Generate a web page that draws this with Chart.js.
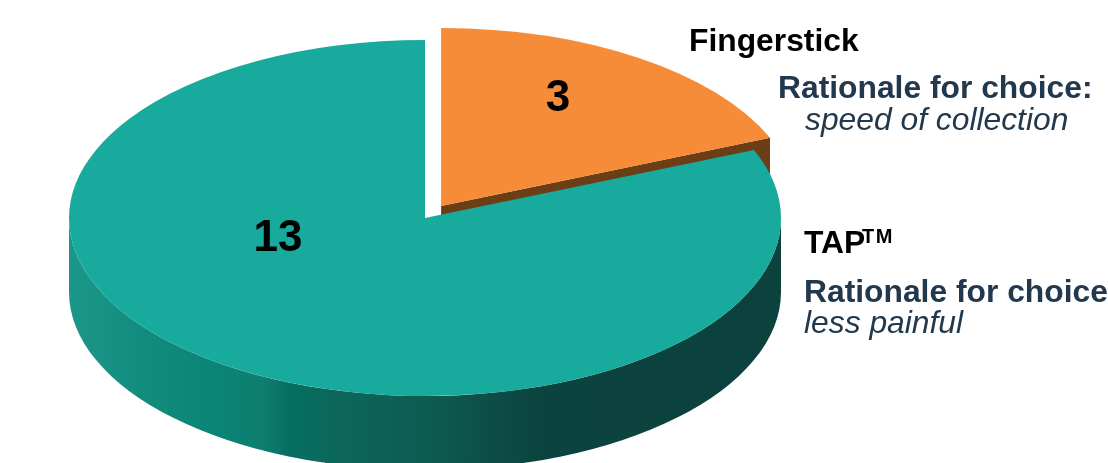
<!DOCTYPE html>
<html>
<head>
<meta charset="utf-8">
<title>Sampling method preference</title>
<script src="https://cdn.jsdelivr.net/npm/chart.js@4/dist/chart.umd.js"></script>
<style>
  html, body { margin: 0; padding: 0; background: #fff; overflow: hidden; }
  canvas { display: block; }
</style>
</head>
<body>
<canvas id="pie" width="1108" height="463"></canvas>
<script>
const categories = ['Fingerstick', 'TAP'];
const counts = [3, 13];
const sliceColors = ['#F68C38', '#18AA9C'];
const sliceExplode = [29, 0];
const countLabelPositions = [[558, 111], [278, 251]];

// Pie tilt: vertical squash of the top face and height of the extruded rim.
const TILT = 0.5;
const DEPTH = 74;
const CUT_FACE_COLOR = '#6C3E16';

// Shading along the rim, left to right.
const rimStops = [
  [0.00, '#1B9789'], [0.11, '#128B7D'], [0.21, '#0A8575'], [0.27, '#0D7E70'],
  [0.31, '#076E62'], [0.38, '#0C665A'], [0.50, '#0D5C52'], [0.58, '#0E4F48'],
  [0.67, '#0B433E'], [1.00, '#0B423E']
];

const sideNotes = [
  { text: 'Fingerstick', x: 689, y: 51, font: 'bold 31.8px "Liberation Sans"', color: '#000000' },
  { text: 'Rationale for choice:', x: 778, y: 98, font: 'bold 31.8px "Liberation Sans"', color: '#22384C' },
  { text: 'speed of collection', x: 805, y: 130, font: 'italic 31.8px "Liberation Sans"', color: '#22384C' },
  { text: 'TAP', x: 804, y: 253, font: 'bold 31.8px "Liberation Sans"', color: '#000000' },
  { text: 'TM', x: 862, y: 243, font: 'bold 20px "Liberation Sans"', color: '#000000', spacing: '1.5px' },
  { text: 'Rationale for choice', x: 804, y: 302, font: 'bold 31.8px "Liberation Sans"', color: '#22384C' },
  { text: 'less painful', x: 804, y: 333, font: 'italic 31.8px "Liberation Sans"', color: '#22384C' }
];

// Direction a slice is pulled out along, in the pie's own unsquashed plane.
function explodeVector(arc, amount) {
  const mid = (arc.startAngle + arc.endAngle) / 2;
  return [Math.cos(mid) * amount, Math.sin(mid) * amount];
}

const tiltedPie = {
  id: 'tiltedPie',
  afterDatasetsUpdate(chart) {
    // Chart.js's own offset also grows the slice, so shift the whole arc instead.
    chart.getDatasetMeta(0).data.forEach((arc, i) => {
      if (!sliceExplode[i]) return;
      const baseDraw = arc.draw;
      arc.draw = function (ctx, area) {
        const [dx, dy] = explodeVector(this, sliceExplode[i]);
        ctx.save();
        ctx.translate(dx, dy);
        baseDraw.call(this, ctx, area);
        ctx.restore();
      };
    });
  },
  beforeDatasetsDraw(chart) {
    const { ctx } = chart;
    const arcs = chart.getDatasetMeta(0).data;
    const { x, y, outerRadius: r } = arcs[1];
    const ry = r * TILT;

    // Outer rim of the large slice (only its lower half can be seen).
    const shade = ctx.createLinearGradient(x - r, 0, x + r, 0);
    rimStops.forEach(([at, color]) => shade.addColorStop(at, color));
    ctx.save();
    ctx.fillStyle = shade;
    ctx.beginPath();
    ctx.ellipse(x, y + DEPTH, r, ry, 0, 0, Math.PI);
    ctx.ellipse(x, y, r, ry, 0, Math.PI, 0, true);
    ctx.closePath();
    ctx.fill();

    // Cut face along the trailing edge of the pulled-out slice.
    const small = arcs[0];
    const [dx, dy] = explodeVector(small, sliceExplode[0]);
    const ax = small.x + dx;
    const ay = small.y + dy * TILT;
    const ex = ax + Math.cos(small.endAngle) * r;
    const ey = ay + Math.sin(small.endAngle) * ry;
    ctx.fillStyle = CUT_FACE_COLOR;
    ctx.beginPath();
    ctx.moveTo(ax, ay);
    ctx.lineTo(ex, ey);
    ctx.lineTo(ex, ey + DEPTH);
    ctx.lineTo(ax, ay + DEPTH);
    ctx.closePath();
    ctx.fill();
    ctx.restore();

    // The slices themselves are drawn by Chart.js on a squashed context.
    ctx.save();
    ctx.translate(0, y);
    ctx.scale(1, TILT);
    ctx.translate(0, -y);
  },
  afterDatasetsDraw(chart) {
    chart.ctx.restore();
  },
  afterDraw(chart) {
    const { ctx } = chart;
    ctx.save();
    ctx.textBaseline = 'alphabetic';
    ctx.textAlign = 'center';
    ctx.fillStyle = '#000000';
    ctx.font = 'bold 44px "Liberation Sans"';
    counts.forEach((count, i) => {
      const [px, py] = countLabelPositions[i];
      ctx.fillText(String(count), px, py);
    });
    ctx.textAlign = 'left';
    sideNotes.forEach(note => {
      ctx.font = note.font;
      ctx.fillStyle = note.color;
      ctx.letterSpacing = note.spacing || '0px';
      ctx.fillText(note.text, note.x, note.y);
    });
    ctx.restore();
  }
};

new Chart(document.getElementById('pie'), {
  type: 'pie',
  data: {
    labels: categories,
    datasets: [{
      data: counts,
      backgroundColor: sliceColors,
      hoverBackgroundColor: sliceColors,
      hoverOffset: 0,
      borderWidth: 0,
      clip: false,
      radius: 356
    }]
  },
  options: {
    responsive: false,
    animation: false,
    events: [],
    layout: { padding: { right: 258, bottom: 27 } },
    plugins: { legend: { display: false }, tooltip: { enabled: false } }
  },
  plugins: [tiltedPie]
});
</script>
</body>
</html>
